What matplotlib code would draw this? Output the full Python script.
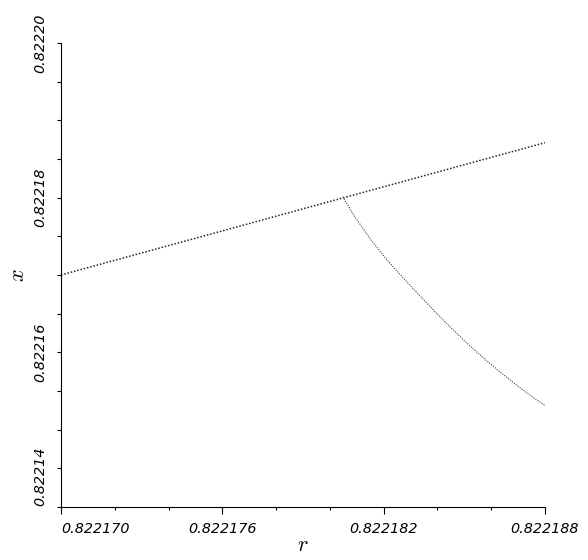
import matplotlib
matplotlib.use('Agg')
import matplotlib.pyplot as plt
import matplotlib.transforms as mtransforms
from matplotlib.ticker import MultipleLocator
import numpy as np

plt.rcParams['mathtext.fontset'] = 'cm'

# ---------------------------------------------------------
# Data
# ---------------------------------------------------------

# upper branch: the fixed point x = r
r_upper = [0.822170, 0.822188]
x_upper = [0.822170, 0.82218711]

# lower branch, splitting off near r ~ 0.8221805
r_lower = [0.82218048, 0.82218087, 0.82218149, 0.82218211, 0.82218273,
           0.82218323, 0.82218385, 0.82218447, 0.82218509, 0.82218571,
           0.82218633, 0.82218695, 0.82218756, 0.82218800]
x_lower = [0.82218012, 0.82217782, 0.82217472, 0.82217200, 0.82216961,
           0.82216774, 0.82216547, 0.82216328, 0.82216121, 0.82215927,
           0.82215746, 0.82215574, 0.82215416, 0.82215313]

x_ticks = [0.822170, 0.822176, 0.822182, 0.822188]
x_ticklabels = ['0.822170', '0.822176', '0.822182', '0.822188']
y_ticks = [0.82214, 0.82216, 0.82218, 0.82220]
y_ticklabels = ['0.82214', '0.82216', '0.82218', '0.82220']

# ---------------------------------------------------------
# Plot
# ---------------------------------------------------------

fig = plt.figure(figsize=(5.88, 5.60), dpi=100)
ax = fig.add_axes([61/588, 1 - 507/560, (545 - 61)/588, (507 - 43)/560])

ax.plot(r_upper, x_upper, color='0.15', linewidth=1.1, linestyle=(0, (1, 1.2)))
ax.plot(r_lower, x_lower, color='0.25', linewidth=0.8, linestyle=(0, (1, 1.2)))

ax.set_xlim(0.822170, 0.822188)
ax.set_ylim(0.82214, 0.82220)

ax.spines['top'].set_visible(False)
ax.spines['right'].set_visible(False)
for side in ['left', 'bottom']:
    ax.spines[side].set_linewidth(0.8)

ax.set_xticks(x_ticks)
ax.set_xticklabels(x_ticklabels, fontsize=10.4, fontstyle='italic')
ax.set_yticks(y_ticks)
ax.set_yticklabels(y_ticklabels, fontsize=10.4, fontstyle='italic',
                   rotation=90, va='center')
ax.xaxis.set_minor_locator(MultipleLocator(0.000002))
ax.yaxis.set_minor_locator(MultipleLocator(0.000005))

ax.tick_params(axis='x', which='major', direction='out', length=5, width=0.8, pad=6)
ax.tick_params(axis='x', which='minor', direction='out', length=2.5, width=0.8)
ax.tick_params(axis='y', which='both', direction='out', length=3, width=0.8, pad=7)

# first x label and lowest y label are nudged away from the corner
xl = ax.get_xticklabels()
xl[0].set_horizontalalignment('left')
yl = ax.get_yticklabels()
yl[0].set_transform(yl[0].get_transform() +
                    mtransforms.ScaledTranslation(0, 31/100, fig.dpi_scale_trans))

ax.set_xlabel('$r$', fontsize=16, labelpad=-1)
ax.set_ylabel('$x$', fontsize=16, labelpad=4)

plt.savefig('out.png', dpi=100)
